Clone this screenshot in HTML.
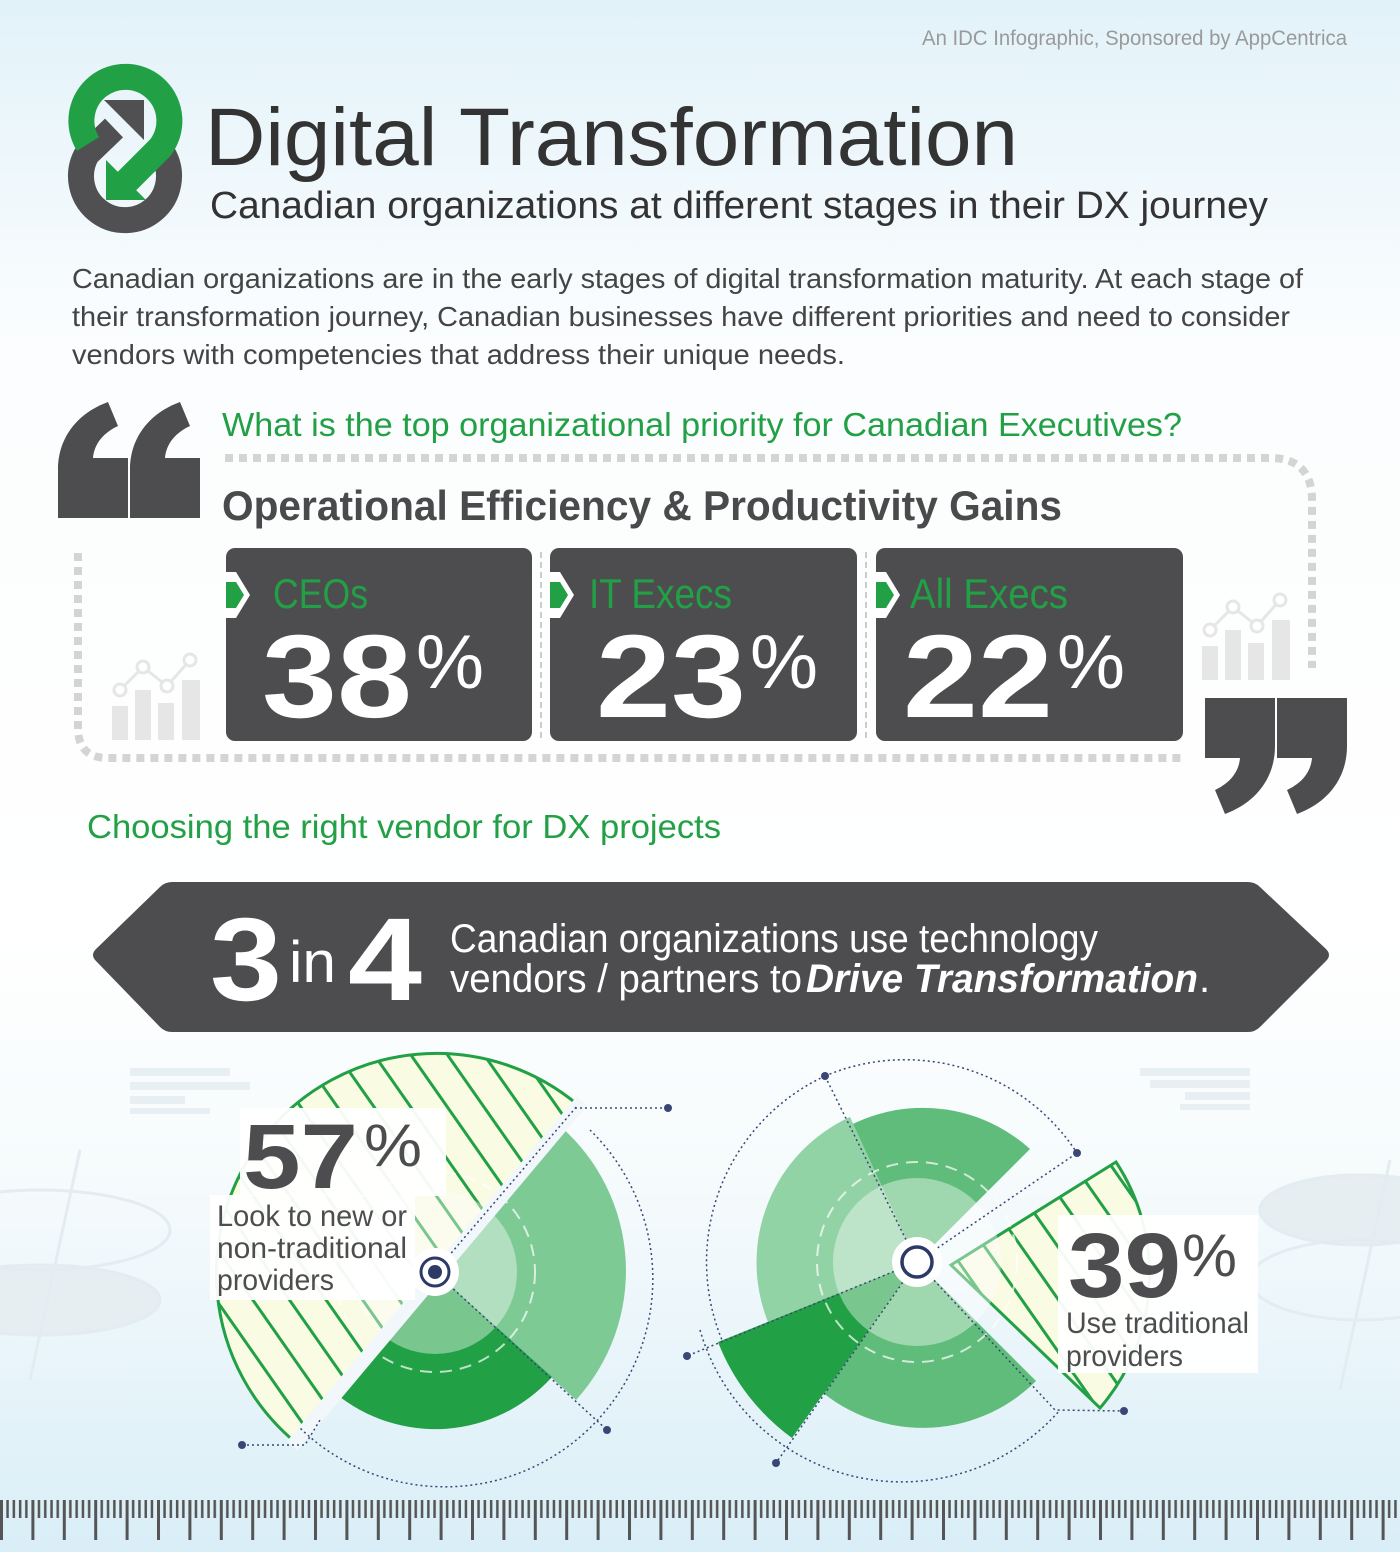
<!DOCTYPE html>
<html><head><meta charset="utf-8"><style>
html,body{margin:0;padding:0;width:1400px;height:1552px;overflow:hidden}
svg{display:block}
text{font-family:"Liberation Sans",sans-serif}
</style></head><body>
<svg width="1400" height="1552" viewBox="0 0 1400 1552" xmlns="http://www.w3.org/2000/svg">
<defs>
<linearGradient id="bg" x1="0" y1="0" x2="0" y2="1">
<stop offset="0" stop-color="#e2f2f9"/><stop offset="0.22" stop-color="#fbfdfe"/><stop offset="0.6" stop-color="#ffffff"/><stop offset="0.78" stop-color="#f4fafc"/><stop offset="1" stop-color="#d9eef7"/>
</linearGradient>
<pattern id="hatch" width="30" height="30" patternUnits="userSpaceOnUse" patternTransform="rotate(-35)">
<rect width="30" height="30" fill="#fafbe3"/><rect x="0" y="0" width="3" height="30" fill="#22a045"/>
</pattern>
<pattern id="ruler" x="0" y="1500" width="31.4" height="45" patternUnits="userSpaceOnUse">
<rect x="0" y="0" width="3" height="40" fill="#555"/>
<rect x="6.3" y="0" width="2.5" height="18" fill="#555"/>
<rect x="12.6" y="0" width="2.5" height="18" fill="#555"/>
<rect x="18.9" y="0" width="2.5" height="18" fill="#555"/>
<rect x="25.1" y="0" width="2.5" height="18" fill="#555"/>
</pattern>
</defs>
<rect width="1400" height="1552" fill="url(#bg)"/>

<!-- faint background decorations -->
<g fill="none" stroke="#e3ecf0" stroke-width="3">
<ellipse cx="40" cy="1300" rx="120" ry="35" fill="#e6eef1"/>
<ellipse cx="40" cy="1230" rx="130" ry="40"/>
<ellipse cx="1360" cy="1210" rx="100" ry="35" fill="#e6eef1"/>
<ellipse cx="1360" cy="1280" rx="110" ry="40"/>
<line x1="80" y1="1150" x2="30" y2="1380"/><line x1="1390" y1="1160" x2="1340" y2="1390"/>
</g>
<g fill="#e8eff2">
<rect x="130" y="1068" width="100" height="8"/><rect x="130" y="1082" width="120" height="8"/><rect x="130" y="1096" width="55" height="8"/><rect x="130" y="1108" width="80" height="6"/>
<rect x="1140" y="1068" width="110" height="8"/><rect x="1150" y="1080" width="100" height="8"/><rect x="1185" y="1092" width="65" height="8"/><rect x="1180" y="1104" width="70" height="6"/>
</g>

<text x="1347" y="45" font-size="21" fill="#9a9a9a" text-anchor="end" textLength="425" lengthAdjust="spacingAndGlyphs">An IDC Infographic, Sponsored by AppCentrica</text>

<!-- logo -->
<g fill="none">
<path d="M163,154 A44,44 0 1 1 87,154 L114,128" stroke="#505052" stroke-width="26"/>
<polygon points="144,100 104,100 144,140" fill="#505052"/>
<path d="M88,144 A44,44 0 1 1 160,148 L124,184" stroke="#22a045" stroke-width="26"/>
<polygon points="106,200 106,160 146,200" fill="#22a045"/>
</g>

<text x="205" y="165" font-size="82" fill="#333" textLength="813" lengthAdjust="spacingAndGlyphs">Digital Transformation</text>
<text x="210" y="218" font-size="38" fill="#333" textLength="1058" lengthAdjust="spacingAndGlyphs">Canadian organizations at different stages in their DX journey</text>

<g font-size="28" fill="#444">
<text x="72" y="288" textLength="1231" lengthAdjust="spacingAndGlyphs">Canadian organizations are in the early stages of digital transformation maturity. At each stage of</text>
<text x="72" y="326" textLength="1218" lengthAdjust="spacingAndGlyphs">their transformation journey, Canadian businesses have different priorities and need to consider</text>
<text x="72" y="364" textLength="773" lengthAdjust="spacingAndGlyphs">vendors with competencies that address their unique needs.</text>
</g>

<!-- quotes -->
<g id="q" fill="#4d4d4f">
<path d="M58,518 L58,470 C58,437 78,413 108,402 L118,426 C101,434 94,446 93,458 L128,458 L128,518 Z"/>
<path d="M130,518 L130,470 C130,437 150,413 180,402 L190,426 C173,434 166,446 165,458 L200,458 L200,518 Z"/>
</g>
<g fill="#4d4d4f" transform="rotate(180 702.5 608)">
<path d="M58,518 L58,470 C58,437 78,413 108,402 L118,426 C101,434 94,446 93,458 L128,458 L128,518 Z"/>
<path d="M130,518 L130,470 C130,437 150,413 180,402 L190,426 C173,434 166,446 165,458 L200,458 L200,518 Z"/>
</g>

<text x="222" y="436" font-size="33" fill="#22a045" textLength="960" lengthAdjust="spacingAndGlyphs">What is the top organizational priority for Canadian Executives?</text>

<!-- dotted frame -->
<g fill="none" stroke="#d4d4d4" stroke-width="8" stroke-dasharray="8 6">
<path d="M225,458 L1270,458 Q1312,458 1312,500 L1312,668"/>
<path d="M78,553 L78,728 Q78,758 108,758 L1182,758"/>
</g>

<text x="222" y="520" font-size="42" font-weight="bold" fill="#4a4a4c" textLength="840" lengthAdjust="spacingAndGlyphs">Operational Efficiency &amp; Productivity Gains</text>

<!-- chart icons -->
<g fill="#e6e6e6" stroke="#e6e6e6">
<rect x="112" y="706" width="16" height="34" stroke="none"/><rect x="135" y="690" width="16" height="50" stroke="none"/><rect x="158" y="703" width="16" height="37" stroke="none"/><rect x="182" y="680" width="18" height="60" stroke="none"/>
<polyline points="120,690 143,667 167,686 190,660" fill="none" stroke-width="3"/>
<circle cx="120" cy="690" r="6" fill="#fff" stroke-width="3"/><circle cx="143" cy="667" r="6" fill="#fff" stroke-width="3"/><circle cx="167" cy="686" r="6" fill="#fff" stroke-width="3"/><circle cx="190" cy="660" r="6" fill="#fff" stroke-width="3"/>
<rect x="1202" y="646" width="16" height="34" stroke="none"/><rect x="1225" y="630" width="16" height="50" stroke="none"/><rect x="1248" y="643" width="16" height="37" stroke="none"/><rect x="1272" y="620" width="18" height="60" stroke="none"/>
<polyline points="1210,630 1233,607 1257,626 1280,600" fill="none" stroke-width="3"/>
<circle cx="1210" cy="630" r="6" fill="#fff" stroke-width="3"/><circle cx="1233" cy="607" r="6" fill="#fff" stroke-width="3"/><circle cx="1257" cy="626" r="6" fill="#fff" stroke-width="3"/><circle cx="1280" cy="600" r="6" fill="#fff" stroke-width="3"/>
</g>

<!-- stat boxes -->
<g>
<line x1="541" y1="552" x2="541" y2="740" stroke="#ccc" stroke-width="2" stroke-dasharray="6 4"/>
<line x1="866" y1="552" x2="866" y2="740" stroke="#ccc" stroke-width="2" stroke-dasharray="6 4"/>
<rect x="226" y="548" width="306" height="193" rx="9" fill="#4d4d4f"/>
<rect x="550" y="548" width="307" height="193" rx="9" fill="#4d4d4f"/>
<rect x="876" y="548" width="307" height="193" rx="9" fill="#4d4d4f"/>
<g fill="#fff">
<polygon points="224,572 236,572 250,595 236,618 224,618"/>
<polygon points="548,572 560,572 574,595 560,618 548,618"/>
<polygon points="874,572 886,572 900,595 886,618 874,618"/>
</g>
<g fill="#22a045">
<polygon points="226,582 236,582 244,595 236,608 226,608"/>
<polygon points="550,582 560,582 568,595 560,608 550,608"/>
<polygon points="876,582 886,582 894,595 886,608 876,608"/>
</g>
<g font-size="42" fill="#22a045">
<text x="273" y="608" textLength="95" lengthAdjust="spacingAndGlyphs">CEOs</text>
<text x="589" y="608" textLength="143" lengthAdjust="spacingAndGlyphs">IT Execs</text>
<text x="910" y="608" textLength="158" lengthAdjust="spacingAndGlyphs">All Execs</text>
</g>
<g fill="#fff">
<text x="262" y="717" font-size="118" font-weight="bold" textLength="150" lengthAdjust="spacingAndGlyphs">38</text>
<text x="416" y="688" font-size="76" textLength="68" lengthAdjust="spacingAndGlyphs">%</text>
<text x="596" y="717" font-size="118" font-weight="bold" textLength="150" lengthAdjust="spacingAndGlyphs">23</text>
<text x="750" y="688" font-size="76" textLength="68" lengthAdjust="spacingAndGlyphs">%</text>
<text x="903" y="717" font-size="118" font-weight="bold" textLength="150" lengthAdjust="spacingAndGlyphs">22</text>
<text x="1057" y="688" font-size="76" textLength="68" lengthAdjust="spacingAndGlyphs">%</text>
</g>
</g>

<text x="87" y="838" font-size="33" fill="#22a045" textLength="634" lengthAdjust="spacingAndGlyphs">Choosing the right vendor for DX projects</text>

<!-- banner -->
<path d="M96,949 L160,887 Q165,882 172,882 L1248,882 Q1255,882 1260,887 L1326,949 Q1332,955 1326,961 L1260,1027 Q1255,1032 1248,1032 L172,1032 Q165,1032 160,1027 L96,961 Q90,955 96,949 Z" fill="#4d4d4f"/>
<g fill="#fff">
<text x="210" y="1000" font-size="118" font-weight="bold" textLength="72" lengthAdjust="spacingAndGlyphs">3</text>
<text x="289" y="982" font-size="58" textLength="47" lengthAdjust="spacingAndGlyphs">in</text>
<text x="348" y="1000" font-size="118" font-weight="bold" textLength="74" lengthAdjust="spacingAndGlyphs">4</text>
<text x="450" y="952" font-size="40" textLength="648" lengthAdjust="spacingAndGlyphs">Canadian organizations use technology</text>
<text x="450" y="992" font-size="40" textLength="352" lengthAdjust="spacingAndGlyphs">vendors / partners to</text>
<text x="806" y="992" font-size="40" font-weight="bold" font-style="italic" textLength="392" lengthAdjust="spacingAndGlyphs">Drive Transformation</text>
<text x="1199" y="992" font-size="40">.</text>
</g>

<!-- left pie -->
<g>
<path d="M435,1272 L295,1442 A220,220 0 1 1 578,1105 Z" fill="url(#hatch)" stroke="#22a045" stroke-width="3"/>
<path d="M435,1272 L560,1126 A192,192 0 0 1 576,1400 Z" fill="#7dca94"/>
<path d="M435,1272 L552,1377 A157,157 0 0 1 335,1393 Z" fill="#21a045"/>
<circle cx="435" cy="1272" r="82" fill="#ffffff" opacity="0.4"/>
<circle cx="435" cy="1272" r="100" fill="none" stroke="#fff" stroke-width="2" stroke-dasharray="12 8" opacity="0.7"/>
<line x1="292" y1="1446" x2="582" y2="1101" stroke="#f1f7fa" stroke-width="14"/>
<g fill="none" stroke="#3a4676" stroke-width="1.5" stroke-dasharray="2 3">
<path d="M590,1130 A205,205 0 0 1 300,1428"/>
<polyline points="575,1108 598,1108 668,1108"/>
<polyline points="242,1445 305,1445 320,1420"/>
<line x1="435" y1="1272" x2="607" y2="1430"/>
<line x1="435" y1="1272" x2="578" y2="1105"/>
</g>
<g fill="#3a4676"><circle cx="668" cy="1108" r="4"/><circle cx="242" cy="1445" r="4"/><circle cx="607" cy="1430" r="4"/></g>
<circle cx="435" cy="1272" r="24" fill="#fff"/>
<circle cx="435" cy="1272" r="14" fill="none" stroke="#2e3a66" stroke-width="3"/>
<circle cx="435" cy="1272" r="7" fill="#2e3a66"/>
<rect x="240" y="1108" width="206" height="88" fill="#fff" opacity="0.95"/>
<rect x="210" y="1195" width="205" height="105" fill="#fff" opacity="0.95"/>
<text x="243" y="1188" font-size="92" font-weight="bold" fill="#4d4d4f" textLength="115" lengthAdjust="spacingAndGlyphs">57</text>
<text x="364" y="1166" font-size="60" fill="#4d4d4f" textLength="58" lengthAdjust="spacingAndGlyphs">%</text>
<g font-size="30" fill="#4d4d4f">
<text x="217" y="1226" textLength="190" lengthAdjust="spacingAndGlyphs">Look to new or</text>
<text x="217" y="1258" textLength="190" lengthAdjust="spacingAndGlyphs">non-traditional</text>
<text x="217" y="1290" textLength="117" lengthAdjust="spacingAndGlyphs">providers</text>
</g>
</g>

<!-- right pie -->
<g>
<path d="M951,1265 L1116,1162 A205,205 0 0 1 1100,1408 Z" fill="url(#hatch)" stroke="#22a045" stroke-width="3"/>
<path d="M917,1262 L1036,1381 A160,160 0 1 1 1030,1149 Z" fill="#5fbc7a"/>
<path d="M917,1262 L768,1322 A160,160 0 0 1 850,1117 Z" fill="#92d3a5"/>
<path d="M917,1262 L792,1438 A215,215 0 0 1 718,1342 Z" fill="#21a045"/>
<circle cx="917" cy="1262" r="84" fill="#ffffff" opacity="0.4"/>
<circle cx="917" cy="1262" r="100" fill="none" stroke="#fff" stroke-width="2" stroke-dasharray="12 8" opacity="0.7"/>
<g fill="none" stroke="#3a4676" stroke-width="1.5" stroke-dasharray="2 3">
<path d="M825,1076 A205,205 0 0 1 1077,1153"/>
<path d="M700,1330 A210,210 0 0 0 1060,1410"/>
<path d="M825,1076 A205,205 0 0 0 722,1340"/>
<line x1="917" y1="1262" x2="825" y2="1076"/>
<line x1="917" y1="1262" x2="1077" y2="1153"/>
<line x1="917" y1="1262" x2="687" y2="1356"/>
<line x1="917" y1="1262" x2="776" y2="1463"/>
<polyline points="917,1262 1055,1410 1124,1411"/>
</g>
<g fill="#3a4676"><circle cx="825" cy="1076" r="4"/><circle cx="1077" cy="1153" r="4"/><circle cx="687" cy="1356" r="4"/><circle cx="776" cy="1463" r="4"/><circle cx="1124" cy="1411" r="4"/></g>
<circle cx="917" cy="1262" r="25" fill="#fff"/>
<circle cx="917" cy="1262" r="15" fill="none" stroke="#2e3a66" stroke-width="3.5"/>
<rect x="1058" y="1215" width="200" height="158" fill="#fff" opacity="0.95"/>
<text x="1068" y="1297" font-size="92" font-weight="bold" fill="#4d4d4f" textLength="113" lengthAdjust="spacingAndGlyphs">39</text>
<text x="1182" y="1276" font-size="60" fill="#4d4d4f" textLength="55" lengthAdjust="spacingAndGlyphs">%</text>
<g font-size="30" fill="#4d4d4f">
<text x="1066" y="1333" textLength="183" lengthAdjust="spacingAndGlyphs">Use traditional</text>
<text x="1066" y="1366" textLength="117" lengthAdjust="spacingAndGlyphs">providers</text>
</g>
</g>

<!-- ruler -->
<rect x="0" y="1500" width="1400" height="45" fill="url(#ruler)"/>
</svg>
</body></html>
